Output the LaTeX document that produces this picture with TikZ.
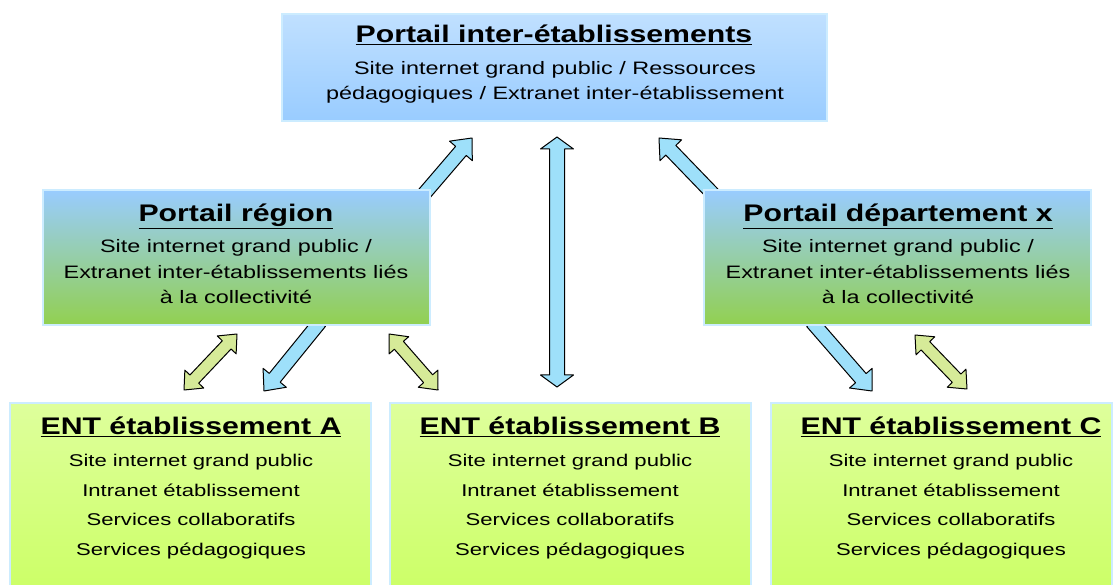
\documentclass[tikz,border=0pt]{standalone}
\usepackage{fontspec}
\setmainfont{Liberation Sans}
\newfontfamily\ttlfont[FakeStretch=1.26]{Liberation Sans}
\newfontfamily\bodyfont[FakeStretch=1.3]{Liberation Sans}
\usetikzlibrary{calc}
\pgfdeclarelayer{bg}
\pgfsetlayers{bg,main}
\definecolor{topA}{HTML}{C0E0FF}
\definecolor{skyB}{HTML}{99CCFF}
\definecolor{grassG}{HTML}{92D050}
\definecolor{entTop}{HTML}{DEFF9C}
\definecolor{entBot}{HTML}{CCFF66}
\definecolor{edgeC}{HTML}{CCECFF}
\definecolor{arrBlue}{HTML}{9EE0FA}
\definecolor{arrGreen}{HTML}{D6EA98}
\newcommand\sglarr[6]{% tail, tip, colour, half shaft, half head, head length
  \coordinate (hb) at ($(#2)!#6!(#1)$);
  \draw[arrline,fill=#3] ($(#1)!#4!90:(#2)$) -- ($(hb)!#4!90:(#2)$) -- ($(hb)!#5!90:(#2)$) -- (#2)
    -- ($(hb)!#5!-90:(#2)$) -- ($(hb)!#4!-90:(#2)$) -- ($(#1)!#4!-90:(#2)$) -- cycle;}
\newcommand\dblarr[6]{% tip, tip, colour, half shaft, half head, head length
  \coordinate (ha) at ($(#1)!#6!(#2)$);
  \coordinate (hb) at ($(#2)!#6!(#1)$);
  \draw[arrline,fill=#3] (#1) -- ($(ha)!#5!-90:(#2)$) -- ($(ha)!#4!-90:(#2)$) -- ($(hb)!#4!90:(#1)$)
    -- ($(hb)!#5!90:(#1)$) -- (#2) -- ($(hb)!#5!-90:(#1)$) -- ($(hb)!#4!-90:(#1)$)
    -- ($(ha)!#4!90:(#2)$) -- ($(ha)!#5!90:(#2)$) -- cycle;}
\tikzset{
  arrline/.style={draw=black,line width=1pt,line join=round},
  boxbase/.style={draw=edgeC,line width=2pt,inner sep=0pt,outer sep=0pt},
  topbox/.style={boxbase,top color=topA,bottom color=skyB},
  midbox/.style={boxbase,top color=skyB,bottom color=grassG},
  entbox/.style={boxbase,top color=entTop,bottom color=entBot},
  ttl/.style={anchor=base,inner sep=0pt,font=\ttlfont\bfseries\fontsize{24}{28}\selectfont},
  bodytxt/.style={anchor=base,inner sep=0pt,align=center,font=\bodyfont\fontsize{18}{25.5}\selectfont},
  entbody/.style={anchor=base,inner sep=0pt,align=center,font=\bodyfont\fontsize{17}{29.5}\selectfont},
}
\begin{document}
\begin{tikzpicture}[x=1pt,y=-1pt]
\useasboundingbox (0,0) rectangle (1120,585);
% boxes
\node[topbox,minimum width=545,minimum height=107] (top) at (554.5,67.5) {};
\node[midbox,minimum width=387,minimum height=135] (reg) at (236.5,257.5) {};
\node[midbox,minimum width=387,minimum height=135] (dep) at (897.5,257.5) {};
\node[entbox,minimum width=361,minimum height=190] (entA) at (190.5,498) {};
\node[entbox,minimum width=361,minimum height=190] (entB) at (570.5,498) {};
\node[entbox,minimum width=341,minimum height=190] (entC) at (941.5,498) {};
% texts
\node[ttl] (topT) at (554,43) {\underline{Portail inter-établissements}};
\node[bodytxt] (topB) at (555,100) {Site internet grand public / Ressources\\pédagogiques / Extranet inter-établissement};
\node[ttl] (regT) at (236,222) {\underline{Portail région}};
\node[bodytxt] (regB) at (236,304) {Site internet grand public /\\Extranet inter-établissements liés\\à la collectivité};
\node[ttl] (depT) at (898,222) {\underline{Portail département x}};
\node[bodytxt] (depB) at (898,304) {Site internet grand public /\\Extranet inter-établissements liés\\à la collectivité};
\node[ttl] (entAT) at (191,435) {\underline{ENT établissement A}};
\node[entbody] (entAB) at (191,555) {Site internet grand public\\Intranet établissement\\Services collaboratifs\\Services pédagogiques};
\node[ttl] (entBT) at (570,435) {\underline{ENT établissement B}};
\node[entbody] (entBB) at (570,555) {Site internet grand public\\Intranet établissement\\Services collaboratifs\\Services pédagogiques};
\node[ttl] (entCT) at (951,435) {\underline{ENT établissement C}};
\node[entbody] (entCB) at (951,555) {Site internet grand public\\Intranet établissement\\Services collaboratifs\\Services pédagogiques};
% arrow end points
\coordinate (a1t) at (424,194);
\coordinate (a1h) at (472,138);
\coordinate (a2t) at (713,194);
\coordinate (a2h) at (659,138);
\coordinate (a3a) at (557,137);
\coordinate (a3b) at (557,387);
\coordinate (a4t) at (320,322);
\coordinate (a4h) at (264,391);
\coordinate (a5t) at (812,322);
\coordinate (a5h) at (872,391);
\coordinate (g1a) at (237,334);
\coordinate (g1b) at (184,390);
\coordinate (g2a) at (389,334);
\coordinate (g2b) at (438,390);
\coordinate (g3a) at (915,335);
\coordinate (g3b) at (967,389);
\begin{pgfonlayer}{bg}
\sglarr{a1t}{a1h}{arrBlue}{7pt}{15pt}{17pt}
\sglarr{a2t}{a2h}{arrBlue}{7pt}{15pt}{17pt}
\dblarr{a3a}{a3b}{arrBlue}{7.5pt}{16.5pt}{12pt}
\sglarr{a4t}{a4h}{arrBlue}{7pt}{15pt}{17pt}
\sglarr{a5t}{a5h}{arrBlue}{7pt}{15pt}{17pt}
\dblarr{g1a}{g1b}{arrGreen}{6pt}{13pt}{15pt}
\dblarr{g2a}{g2b}{arrGreen}{6pt}{13pt}{15pt}
\dblarr{g3a}{g3b}{arrGreen}{6pt}{13pt}{15pt}
\end{pgfonlayer}
\end{tikzpicture}
\end{document}
